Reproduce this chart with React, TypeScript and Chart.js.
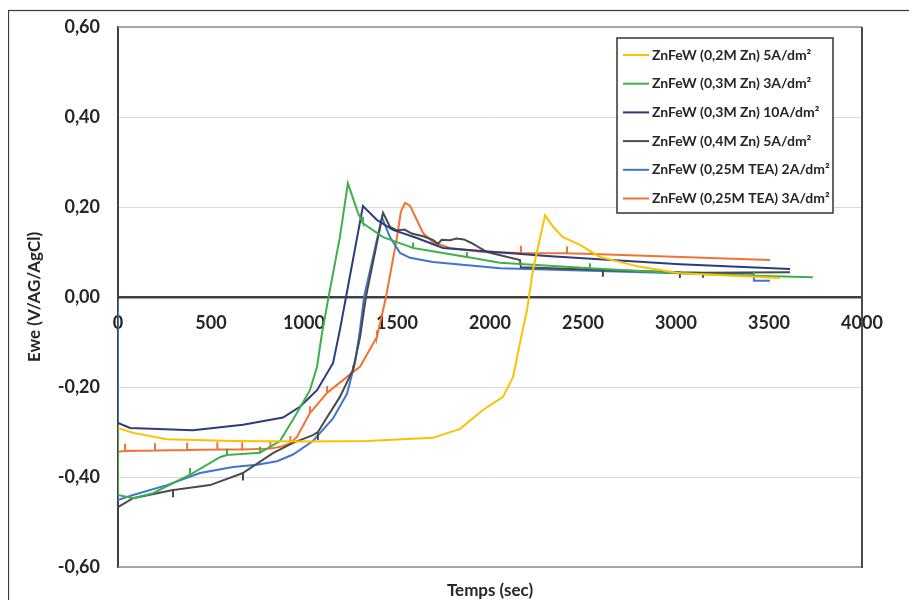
import React, { useEffect, useRef } from 'react';
import { Chart, registerables } from 'chart.js';

Chart.register(...registerables);

// ---------- data ----------
const seriesNames = [
  'ZnFeW (0,2M Zn) 5A/dm²',
  'ZnFeW (0,3M Zn) 3A/dm²',
  'ZnFeW (0,3M Zn) 10A/dm²',
  'ZnFeW (0,4M Zn) 5A/dm²',
  'ZnFeW (0,25M TEA) 2A/dm²',
  'ZnFeW (0,25M TEA) 3A/dm²',
];
const seriesColors = ['#FFC000', '#3DB04C', '#2E3B7C', '#4A4A4A', '#3F76CC', '#F37233'];

const yellowTime = [0, 81, 263, 618, 1000, 1339, 1693, 1839, 1962, 2070, 2124, 2161, 2199, 2231, 2296, 2339, 2392, 2484, 2591, 2806, 3021, 3559];
const yellowEwe = [-0.291, -0.302, -0.316, -0.32, -0.321, -0.32, -0.313, -0.293, -0.251, -0.222, -0.178, -0.102, -0.029, 0.06, 0.182, 0.156, 0.133, 0.116, 0.089, 0.067, 0.053, 0.042];

const greenTime = [0, 0, 81, 188, 387, 387, 387, 548, 586, 586, 586, 763, 763, 763, 871, 962, 1032, 1070, 1097, 1132, 1193, 1236, 1290, 1317, 1317, 1317, 1425, 1586, 1586, 1586, 1876, 1876, 1876, 2054, 2537, 2537, 2537, 3021, 3419, 3419, 3419, 3736];
const greenEwe = [-0.285, -0.44, -0.447, -0.436, -0.395, -0.38, -0.395, -0.356, -0.351, -0.337, -0.351, -0.346, -0.333, -0.346, -0.32, -0.258, -0.207, -0.155, -0.08, 0.0, 0.133, 0.253, 0.187, 0.164, 0.178, 0.164, 0.133, 0.109, 0.121, 0.109, 0.089, 0.1, 0.089, 0.076, 0.064, 0.075, 0.064, 0.053, 0.047, 0.057, 0.047, 0.044];

const navyTime = [0, 65, 403, 672, 887, 978, 1070, 1156, 1193, 1226, 1317, 1392, 1478, 1607, 1747, 2306, 3021, 3613];
const navyEwe = [-0.28, -0.291, -0.296, -0.284, -0.268, -0.244, -0.207, -0.147, -0.073, 0.0, 0.202, 0.171, 0.149, 0.131, 0.109, 0.091, 0.073, 0.062];

const grayTime = [0, 81, 296, 296, 296, 495, 672, 672, 672, 833, 941, 1048, 1075, 1075, 1075, 1124, 1193, 1263, 1301, 1333, 1425, 1462, 1500, 1540, 1580, 1640, 1693, 1720, 1740, 1785, 1820, 1860, 1900, 1984, 2161, 2166, 2607, 2607, 2607, 3021, 3021, 3021, 3145, 3145, 3145, 3613];
const grayEwe = [-0.467, -0.447, -0.429, -0.445, -0.429, -0.418, -0.391, -0.408, -0.391, -0.347, -0.324, -0.307, -0.3, -0.318, -0.3, -0.267, -0.222, -0.162, -0.09, 0.0, 0.187, 0.156, 0.148, 0.15, 0.141, 0.135, 0.127, 0.118, 0.127, 0.126, 0.13, 0.128, 0.12, 0.1, 0.082, 0.066, 0.06, 0.045, 0.06, 0.055, 0.042, 0.055, 0.054, 0.043, 0.054, 0.055];

const blueTime = [0, 0, 81, 263, 441, 618, 747, 855, 941, 1048, 1156, 1231, 1274, 1301, 1323, 1419, 1462, 1516, 1570, 1693, 2054, 3021, 3419, 3419, 3505];
const blueEwe = [-0.005, -0.451, -0.44, -0.418, -0.391, -0.378, -0.373, -0.365, -0.35, -0.32, -0.27, -0.215, -0.147, -0.073, 0.0, 0.177, 0.133, 0.098, 0.087, 0.078, 0.064, 0.053, 0.052, 0.036, 0.036];

const orangeTime = [0, 38, 38, 38, 199, 199, 199, 372, 372, 372, 534, 534, 534, 668, 668, 668, 819, 819, 819, 873, 927, 927, 927, 962, 1032, 1032, 1032, 1124, 1124, 1124, 1263, 1263, 1263, 1301, 1392, 1392, 1392, 1441, 1500, 1521, 1543, 1570, 1607, 1640, 1693, 1785, 1962, 2166, 2166, 2166, 2414, 2414, 2414, 2591, 3505];
const orangeEwe = [-0.344, -0.342, -0.326, -0.342, -0.341, -0.325, -0.341, -0.34, -0.324, -0.34, -0.339, -0.323, -0.339, -0.339, -0.323, -0.339, -0.337, -0.321, -0.337, -0.333, -0.325, -0.309, -0.325, -0.311, -0.258, -0.243, -0.258, -0.213, -0.198, -0.213, -0.167, -0.152, -0.167, -0.155, -0.089, -0.074, -0.089, 0.0, 0.133, 0.19, 0.209, 0.203, 0.171, 0.142, 0.122, 0.109, 0.1, 0.098, 0.114, 0.098, 0.097, 0.112, 0.097, 0.095, 0.082];

const xMin = 0;
const xMax = 4000;
const xStep = 500;
const yMin = -0.6;
const yMax = 0.6;
const yStep = 0.2;
const xTitle = 'Temps (sec)';
const yTitle = 'Ewe (V/AG/AgCl)';

const seriesTimes = [yellowTime, greenTime, navyTime, grayTime, blueTime, orangeTime];
const seriesEwes = [yellowEwe, greenEwe, navyEwe, grayEwe, blueEwe, orangeEwe];

// ---------- styling ----------
const FONT = 'Lato, "Liberation Sans", Arial, sans-serif';
const TEXT = '#262626';

const fmtY = (v: number) => {
  const n = Math.abs(v) < 1e-9 ? 0 : v;
  return n.toFixed(2).replace('.', ',');
};

const framePlugin = {
  id: 'frameAndLegend',
  beforeDraw(chart: any) {
    const { ctx } = chart;
    ctx.save();
    ctx.fillStyle = '#ffffff';
    ctx.fillRect(0, 0, chart.width, chart.height);
    ctx.strokeStyle = '#3a3a3a';
    ctx.lineWidth = 1.2;
    ctx.strokeRect(0.5, 2.5, chart.width - 1, chart.height + 20);
    ctx.restore();
  },
  beforeDatasetsDraw(chart: any) {
    const { ctx, chartArea: a } = chart;
    ctx.save();
    ctx.strokeStyle = '#8a8a8a';
    ctx.lineWidth = 1.5;
    ctx.beginPath();
    ctx.moveTo(a.left, a.top);
    ctx.lineTo(a.right, a.top);
    ctx.moveTo(a.left, a.bottom);
    ctx.lineTo(a.right, a.bottom);
    ctx.stroke();
    ctx.strokeStyle = '#4a4a4a';
    ctx.lineWidth = 2;
    ctx.beginPath();
    ctx.moveTo(a.right, a.top);
    ctx.lineTo(a.right, a.bottom + 1);
    ctx.stroke();
    ctx.restore();
  },
  afterDraw(chart: any) {
    const { ctx, chartArea: a } = chart;
    const bx = a.left + 499;
    const by = a.top + 11;
    const bw = 216;
    const bh = 175;
    ctx.save();
    ctx.fillStyle = '#ffffff';
    ctx.fillRect(bx, by, bw, bh);
    ctx.strokeStyle = '#333333';
    ctx.lineWidth = 1.5;
    ctx.strokeRect(bx, by, bw, bh);
    ctx.font = `bold 14px ${FONT}`;
    ctx.textBaseline = 'middle';
    ctx.textAlign = 'left';
    chart.data.datasets.forEach((ds: any, i: number) => {
      const y = by + 17 + i * 28.7;
      ctx.strokeStyle = ds.borderColor;
      ctx.lineWidth = 2;
      ctx.beginPath();
      ctx.moveTo(bx + 6, y);
      ctx.lineTo(bx + 32, y);
      ctx.stroke();
      ctx.fillStyle = TEXT;
      ctx.fillText(ds.label, bx + 35, y);
    });
    ctx.restore();
  },
};

export default function App() {
  const canvasRef = useRef<HTMLCanvasElement | null>(null);

  useEffect(() => {
    const canvas = canvasRef.current;
    if (!canvas) return;
    const datasets = seriesNames.map((name, i) => ({
      label: name,
      data: seriesTimes[i].map((t, k) => ({ x: t, y: seriesEwes[i][k] })),
      borderColor: seriesColors[i],
      backgroundColor: seriesColors[i],
      borderWidth: 2,
      pointRadius: 0,
      tension: 0,
      fill: false,
      xAxisID: 'x',
      yAxisID: 'y',
    }));
    const tickFont = { family: FONT, size: 18, weight: 'bold' as const };
    const titleFont = { family: FONT, size: 17, weight: 'bold' as const };
    const chart = new Chart(canvas, {
      type: 'line',
      data: { datasets },
      plugins: [framePlugin],
      options: {
        responsive: false,
        animation: false,
        devicePixelRatio: 1,
        layout: { padding: { left: 0, right: 51, top: 19, bottom: 0 } },
        plugins: { legend: { display: false }, tooltip: { enabled: false } },
        scales: {
          x: {
            type: 'linear',
            position: 'bottom',
            min: xMin,
            max: xMax,
            ticks: { display: false },
            grid: { display: false, drawTicks: false },
            border: { display: false },
            title: { display: true, text: xTitle, color: TEXT, font: titleFont, padding: { top: 0, bottom: 7 } },
            afterFit: (s: any) => { s.height = 41; },
          },
          x2: {
            type: 'linear',
            axis: 'x',
            position: { y: 0 },
            min: xMin,
            max: xMax,
            ticks: {
              stepSize: xStep,
              padding: 15,
              color: TEXT,
              font: tickFont,
              maxRotation: 0,
              autoSkip: false,
              callback: (v: any) => String(Math.round(Number(v))),
            },
            grid: { display: false, drawTicks: false },
            border: { color: '#404040', width: 2.5 },
            afterFit: (s: any) => { s.paddingLeft = 0; s.paddingRight = 0; },
          },
          y: {
            type: 'linear',
            min: yMin,
            max: yMax,
            ticks: { stepSize: yStep, padding: 18, color: TEXT, font: tickFont, callback: (v: any) => fmtY(Number(v)) },
            grid: {
              drawTicks: false,
              lineWidth: 1,
              color: (c: any) => {
                const v = c.tick ? c.tick.value : 1;
                if (Math.abs(v) < 1e-9 || Math.abs(Math.abs(v) - 0.6) < 1e-9) return 'rgba(0,0,0,0)';
                return '#d9d9d9';
              },
            },
            border: { color: '#404040', width: 2 },
            title: { display: true, text: yTitle, color: TEXT, font: titleFont, padding: { top: 16, bottom: 0 } },
            afterFit: (s: any) => { s.width = 110; s.paddingTop = 0; s.paddingBottom = 0; },
          },
        },
      },
    } as any);
    return () => chart.destroy();
  }, []);

  return (
    <div style={{ width: 905, height: 592 }}>
      <canvas ref={canvasRef} width={905} height={600} style={{ display: 'block' }} />
    </div>
  );
}
